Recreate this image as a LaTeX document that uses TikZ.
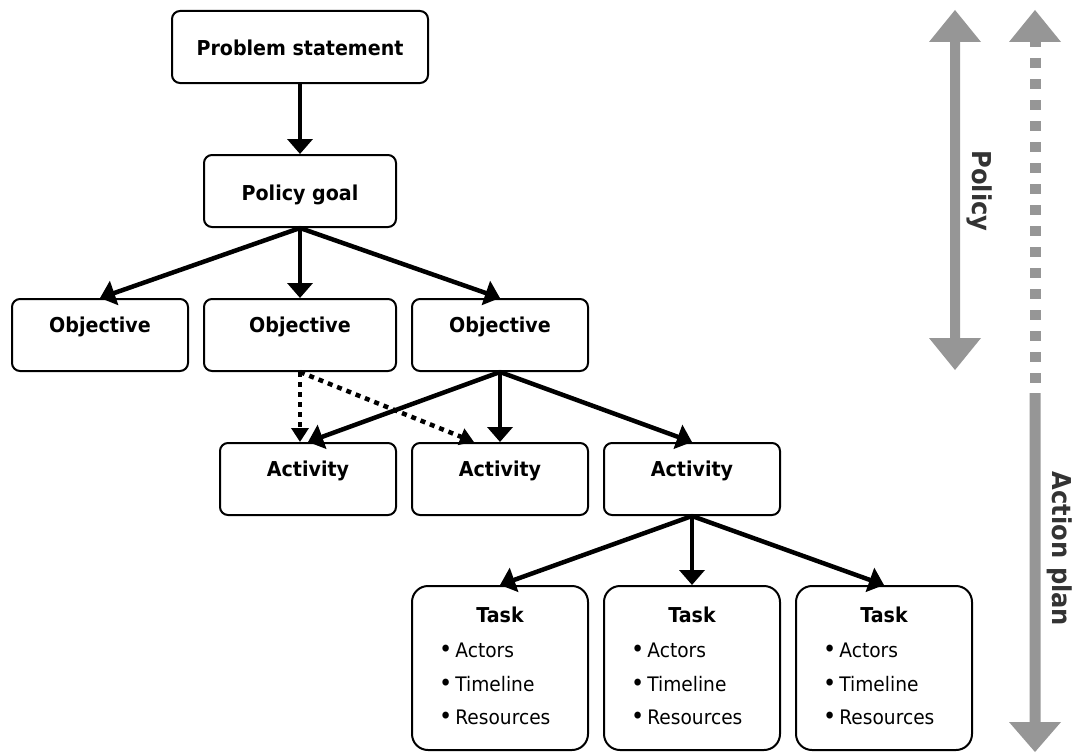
\documentclass[tikz,border=0pt]{standalone}
\usepackage{fontspec}
\setmainfont{DejaVu Sans}[FakeStretch=0.93]
\usetikzlibrary{arrows.meta,calc}
\definecolor{arrgray}{HTML}{969696}
\definecolor{txtgray}{HTML}{333333}
\newcommand{\bulletmark}{{\fontsize{24}{33.5}\selectfont•}\hspace{3pt}}
\begin{document}
\begin{tikzpicture}[x=1pt,y=-1pt,
  box/.style={draw, line width=2pt, rounded corners=8pt, inner sep=0pt, minimum width=176pt, font=\fontsize{20.5}{23}\selectfont\bfseries},
  midtext/.style={text height=45pt, text depth=27pt},
  toptext/.style={text height=33pt, text depth=39pt},
  taskbox/.style={draw, line width=2pt, rounded corners=16pt, inner sep=0pt, minimum width=176pt, minimum height=164pt},
  tasktitle/.style={inner sep=0pt, font=\fontsize{20.5}{23}\selectfont\bfseries},
  tasklist/.style={inner sep=0pt, align=left, font=\fontsize{20}{33.5}\selectfont},
  conn/.style={line width=4.5pt, -{Triangle[width=25pt,length=15pt]}},
  dotconn/.style={line width=4.5pt, dash pattern=on 5pt off 5pt, -{Triangle[width=17pt,length=14pt]}},
  sidelabel/.style={rotate=-90, inner sep=0pt, text=txtgray, font=\fontsize{26}{29}\selectfont\bfseries},
]
\useasboundingbox (0,0) rectangle (1086,752);

% boxes
\node[box, midtext, minimum width=256pt, anchor=north west] (ps) at (171,10) {Problem statement};
\node[box, midtext, minimum width=192pt, anchor=north west] (pg) at (203,154) {Policy goal};
\node[box, toptext, anchor=north west] (o1) at (11,298) {Objective};
\node[box, toptext, minimum width=192pt, anchor=north west] (o2) at (203,298) {Objective};
\node[box, toptext, anchor=north west] (o3) at (411,298) {Objective};
\node[box, toptext, anchor=north west] (a1) at (219,442) {Activity};
\node[box, toptext, anchor=north west] (a2) at (411,442) {Activity};
\node[box, toptext, anchor=north west] (a3) at (603,442) {Activity};

\foreach \i/\x in {1/411, 2/603, 3/795} {
  \node[taskbox, anchor=north west] (t\i) at (\x,585) {};
  \node[tasktitle, anchor=base] (t\i h) at ($(t\i.north)+(0,37.5)$) {Task};
  \node[tasklist, anchor=base west] (t\i l) at ($(t\i.north west)+(28,139.5)$) {\bulletmark Actors\\\bulletmark Timeline\\\bulletmark Resources};
}

% connectors
\draw[conn] (ps.south) -- (pg.north);
\draw[conn] (pg.south) -- (o1.north);
\draw[conn] (pg.south) -- (o2.north);
\draw[conn] (pg.south) -- (o3.north);

\coordinate (d1) at (o2.south |- a1.north);
\coordinate (d2) at ($(a2.north)+(-26,0)$);
\draw[dotconn] (o2.south) -- (d1);
\draw[dotconn] (o2.south) -- (d2);

\draw[conn] (o3.south) -- (a1.north);
\draw[conn] (o3.south) -- (a2.north);
\draw[conn] (o3.south) -- (a3.north);

\draw[conn] (a3.south) -- (t1.north);
\draw[conn] (a3.south) -- (t2.north);
\draw[conn] (a3.south) -- (t3.north);

% side arrows
\fill[arrgray] (955,10) -- (981,42) -- (960,42) -- (960,338) -- (981,338) -- (955,370)
  -- (929,338) -- (950,338) -- (950,42) -- (929,42) -- cycle;
\fill[arrgray] (1035,10) -- (1061,42) -- (1009,42) -- cycle;
\fill[arrgray] (1029.5,41) rectangle (1040.5,47);
\draw[arrgray, line width=11pt, dash pattern=on 10pt off 11pt] (1035,58) -- (1035,390);
\fill[arrgray] (1029.5,393) -- (1040.5,393) -- (1040.5,722) -- (1061,722) -- (1035,752)
  -- (1009,722) -- (1029.5,722) -- cycle;

\node[sidelabel] (pol) at (980,191) {Policy};
\node[sidelabel] (ap) at (1060,549) {Action plan};
\end{tikzpicture}
\end{document}
